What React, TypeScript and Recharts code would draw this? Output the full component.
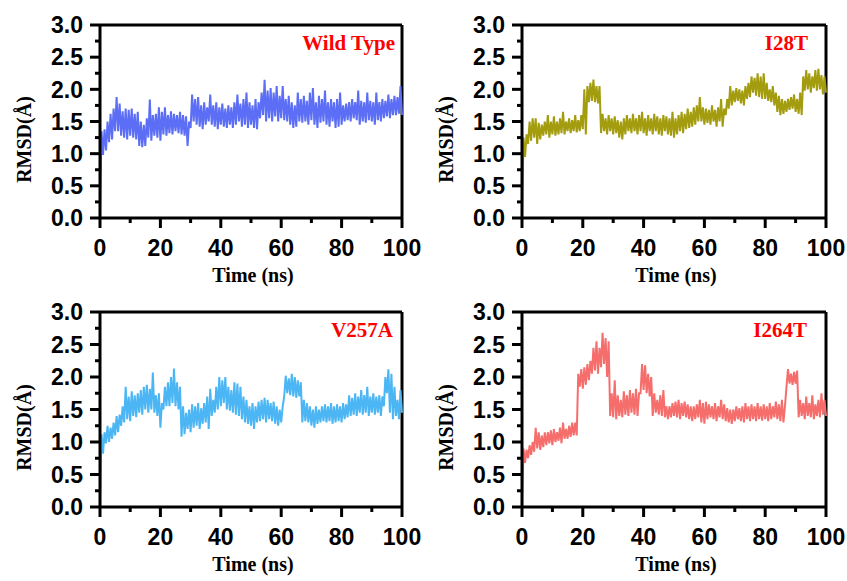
import { LineChart, Line, XAxis, YAxis, ReferenceLine } from 'recharts';

// RMSD traces, 1 ns grid: lower and upper edge of the noisy band
const TIME = Array.from({ length: 101 }, (_, i) => i);

const WT_LO = [
  0, 0.98, 1.05, 1.18, 1.22, 1.35, 1.35, 1.28, 1.25, 1.22,
  1.28, 1.25, 1.22, 1.12, 1.1, 1.12, 1.25, 1.2, 1.28, 1.25,
  1.2, 1.3, 1.28, 1.32, 1.3, 1.35, 1.32, 1.3, 1.28, 1.12,
  1.4, 1.5, 1.45, 1.42, 1.38, 1.45, 1.5, 1.45, 1.42, 1.38,
  1.45, 1.42, 1.4, 1.45, 1.4, 1.45, 1.5, 1.42, 1.45, 1.4,
  1.45, 1.4, 1.38, 1.55, 1.6, 1.5, 1.55, 1.5, 1.58, 1.5,
  1.55, 1.52, 1.5, 1.45, 1.4, 1.42, 1.5, 1.48, 1.5, 1.45,
  1.52, 1.45, 1.4, 1.48, 1.5, 1.45, 1.42, 1.5, 1.4, 1.42,
  1.45, 1.5, 1.52, 1.5, 1.55, 1.52, 1.45, 1.5, 1.48, 1.52,
  1.5, 1.45, 1.52, 1.5, 1.55, 1.58, 1.55, 1.6, 1.6, 1.62,
  1.6,
];
const WT_HI = [
  1.35, 1.38, 1.5, 1.62, 1.7, 1.88, 1.78, 1.66, 1.7, 1.68,
  1.7, 1.62, 1.65, 1.5, 1.45, 1.55, 1.84, 1.6, 1.62, 1.72,
  1.65, 1.72, 1.6, 1.66, 1.62, 1.6, 1.65, 1.6, 1.58, 1.5,
  1.92, 1.85, 1.88, 1.75, 1.8, 1.72, 1.92, 1.75, 1.8, 1.72,
  1.78, 1.7, 1.75, 1.72, 1.8, 1.92, 1.78, 1.85, 1.95, 1.8,
  1.75, 1.85, 1.8, 1.95, 2.15, 1.98, 2.02, 1.95, 2.05, 1.9,
  2.05, 1.85, 1.9, 1.8, 1.75, 1.95, 1.85, 1.9, 1.82, 1.95,
  2.02, 1.8, 1.9, 1.85, 1.98, 1.8, 1.85, 1.8, 1.85, 1.95,
  1.75, 1.78, 1.8, 1.85, 1.8, 1.98, 1.82, 1.8, 1.95, 1.82,
  1.8, 1.95, 1.8, 1.85, 1.82, 1.92, 1.85, 1.9, 1.88, 2.05,
];

const I28T_LO = [
  0, 0.95, 1.15, 1.2, 1.25, 1.15, 1.22, 1.28, 1.3, 1.25,
  1.3, 1.28, 1.3, 1.32, 1.3, 1.35, 1.32, 1.35, 1.33, 1.35,
  1.38, 1.3, 1.8, 1.82, 1.8, 1.78, 1.32, 1.35, 1.3, 1.35,
  1.3, 1.32, 1.25, 1.22, 1.3, 1.35, 1.32, 1.35, 1.3, 1.35,
  1.32, 1.28, 1.35, 1.3, 1.35, 1.3, 1.28, 1.35, 1.3, 1.28,
  1.25, 1.3, 1.35, 1.32, 1.38, 1.4, 1.42, 1.45, 1.5, 1.5,
  1.45, 1.48, 1.45, 1.5, 1.42, 1.5, 1.42, 1.6, 1.7, 1.75,
  1.8, 1.82, 1.78, 1.75, 1.85, 1.88, 1.95, 1.9, 1.88, 1.85,
  1.85, 1.82, 1.8, 1.75, 1.65, 1.6, 1.62, 1.65, 1.68, 1.7,
  1.65, 1.62, 1.6, 1.98, 2.0, 1.95, 2.02, 1.98, 2.0, 1.92,
  1.95,
];
const I28T_HI = [
  1.25, 1.3, 1.5, 1.55, 1.55, 1.48, 1.45, 1.5, 1.6, 1.5,
  1.58, 1.5, 1.55, 1.65, 1.5, 1.55, 1.52, 1.6, 1.52, 1.6,
  2.0, 2.05, 2.1, 2.15, 2.05, 2.05, 1.62, 1.55, 1.6, 1.55,
  1.58, 1.52, 1.5, 1.55, 1.6, 1.55, 1.62, 1.55, 1.6, 1.65,
  1.55, 1.6, 1.55, 1.62, 1.58, 1.55, 1.6, 1.58, 1.55, 1.65,
  1.55, 1.6, 1.65, 1.62, 1.7, 1.65, 1.72, 1.75, 1.88, 1.72,
  1.7, 1.68, 1.75, 1.68, 1.72, 1.85, 1.7, 1.85, 2.05, 1.98,
  2.02, 2.0, 1.98, 2.05, 2.1, 2.2, 2.18, 2.25, 2.2, 2.25,
  2.1, 2.0, 2.05, 1.95, 1.9, 1.85, 1.82, 1.85, 1.88, 1.92,
  1.85, 1.95, 2.2, 2.3, 2.25, 2.2, 2.3, 2.32, 2.22, 2.2,
];

const V257A_LO = [
  0, 0.82, 0.98, 1.0, 1.05, 1.1, 1.15, 1.25, 1.3, 1.35,
  1.32, 1.4, 1.38, 1.45, 1.42, 1.5, 1.45, 1.5, 1.45, 1.4,
  1.22, 1.5, 1.55, 1.55, 1.6, 1.55, 1.5, 1.08, 1.12, 1.2,
  1.15, 1.22, 1.25, 1.2, 1.28, 1.3, 1.2, 1.4, 1.45, 1.5,
  1.55, 1.6, 1.5, 1.48, 1.45, 1.42, 1.4, 1.35, 1.3, 1.28,
  1.25, 1.2, 1.3, 1.32, 1.35, 1.3, 1.35, 1.32, 1.28, 1.25,
  1.3, 1.7, 1.75, 1.72, 1.7, 1.68, 1.7, 1.3, 1.32, 1.3,
  1.25, 1.22, 1.28, 1.3, 1.32, 1.3, 1.32, 1.28, 1.3, 1.32,
  1.3, 1.35, 1.38, 1.4, 1.42, 1.4, 1.45, 1.42, 1.45, 1.4,
  1.45, 1.42, 1.45, 1.4, 1.55, 1.75, 1.45, 1.35, 1.4, 1.35,
  1.45,
];
const V257A_HI = [
  1.12, 1.15, 1.25, 1.22, 1.3, 1.4, 1.42, 1.55, 1.85, 1.7,
  1.78, 1.72, 1.75, 1.8, 1.85, 1.88, 1.82, 2.07, 1.72, 1.75,
  1.6, 1.85, 1.92, 2.0, 2.13, 1.92, 1.85, 1.55, 1.45, 1.5,
  1.58, 1.55, 1.6, 1.52, 1.6, 1.7, 1.82, 1.65, 1.85, 2.0,
  1.95, 2.0, 1.85, 1.8, 1.92, 1.9, 1.85, 1.7, 1.65, 1.55,
  1.6, 1.55, 1.62, 1.65, 1.68, 1.65, 1.6, 1.62, 1.55, 1.5,
  1.55, 2.02, 1.98, 2.05, 2.0, 1.95, 1.92, 1.65, 1.6, 1.55,
  1.5, 1.55, 1.5, 1.55, 1.58, 1.55, 1.6, 1.55, 1.58, 1.55,
  1.6, 1.58, 1.72, 1.68, 1.75, 1.7, 1.8, 1.72, 1.85, 1.7,
  1.75, 1.7, 1.72, 1.7, 2.0, 2.12, 2.05, 1.85, 1.65, 1.8,
];

const I264T_LO = [
  0, 0.68, 0.75, 0.8, 0.85, 0.9, 0.88, 0.92, 0.95, 0.98,
  0.95, 1.0, 1.02, 0.98, 1.05, 1.05, 1.08, 1.1, 1.1, 1.85,
  1.82, 1.88, 1.95, 2.05, 2.1, 2.05, 2.15, 2.2, 2.0, 1.4,
  1.38, 1.35, 1.4, 1.38, 1.42, 1.4, 1.45, 1.42, 1.4, 1.75,
  1.8, 1.75, 1.7, 1.4, 1.45, 1.42, 1.4, 1.38, 1.35, 1.38,
  1.4, 1.38, 1.35, 1.4, 1.38, 1.35, 1.32, 1.35, 1.38, 1.3,
  1.28, 1.35, 1.38, 1.35, 1.32, 1.38, 1.35, 1.32, 1.3, 1.28,
  1.32, 1.35, 1.32, 1.3, 1.35, 1.32, 1.35, 1.32, 1.35, 1.33,
  1.35, 1.32, 1.35, 1.38, 1.35, 1.32, 1.3, 1.85, 1.9, 1.88,
  1.9, 1.38, 1.4, 1.35, 1.4, 1.38, 1.35, 1.4, 1.38, 1.42,
  1.4,
];
const I264T_HI = [
  0.9, 0.88, 0.95, 1.0, 1.22, 1.15, 1.1, 1.15, 1.15, 1.18,
  1.2, 1.15, 1.22, 1.3, 1.2, 1.25, 1.3, 1.3, 2.05, 2.12,
  2.15, 2.2, 2.25, 2.45, 2.55, 2.45, 2.68, 2.6, 2.55, 1.75,
  1.95, 1.72, 1.65, 1.78, 1.72, 1.8, 1.75, 1.82, 1.75, 2.2,
  2.18, 2.05, 2.0, 1.75, 1.65, 1.72, 1.8, 1.55, 1.55, 1.6,
  1.62, 1.65, 1.6, 1.62, 1.58, 1.55, 1.55, 1.58, 1.65, 1.6,
  1.62, 1.58, 1.55, 1.6, 1.55, 1.65, 1.58, 1.52, 1.5, 1.5,
  1.55, 1.52, 1.55, 1.6, 1.55, 1.58, 1.55, 1.6, 1.55, 1.58,
  1.55, 1.6, 1.55, 1.62, 1.58, 1.65, 1.55, 2.12, 2.05, 2.08,
  2.1, 1.65, 1.6, 1.7, 1.6, 1.72, 1.58, 1.65, 1.75, 1.65,
];

const X_TICKS = [0, 10, 20, 30, 40, 50, 60, 70, 80, 90, 100];
const Y_TICKS = [0, 0.25, 0.5, 0.75, 1, 1.25, 1.5, 1.75, 2, 2.25, 2.5, 2.75, 3];

const SANS = '"Liberation Sans", Arial, sans-serif';
const SERIF = '"Liberation Serif", "Times New Roman", serif';

// zigzag between the lower and upper edge so the line fills the band
function buildTrace(lo: number[], hi: number[]) {
  const rows: { t: number; rmsd: number }[] = [];
  lo.forEach((v, i) => {
    rows.push({ t: TIME[i], rmsd: v });
    if (i < hi.length) rows.push({ t: TIME[i] + 0.5, rmsd: hi[i] });
  });
  return rows;
}

const panels = [
  { name: 'Wild Type', color: '#5b6ef5', data: buildTrace(WT_LO, WT_HI), left: 0, top: 0, row: 0, col: 0, inset: 7 },
  { name: 'I28T', color: '#a39c0e', data: buildTrace(I28T_LO, I28T_HI), left: 422, top: 0, row: 0, col: 1, inset: 18 },
  { name: 'V257A', color: '#4cb6f5', data: buildTrace(V257A_LO, V257A_HI), left: 0, top: 290, row: 1, col: 0, inset: 9 },
  { name: 'I264T', color: '#f56e6c', data: buildTrace(I264T_LO, I264T_HI), left: 422, top: 290, row: 1, col: 1, inset: 19 },
];

function YTick(props: any) {
  const { x, y, payload } = props;
  const v = payload.value;
  const major = Math.abs(v * 2 - Math.round(v * 2)) < 1e-6;
  return (
    <g>
      <line x1={x - (major ? 10 : 5)} y1={y} x2={x} y2={y} stroke="#000" strokeWidth={3} />
      {major && (
        <text x={x - 17} y={y} dy="0.36em" textAnchor="end" fontFamily={SANS} fontWeight="bold" fontSize={23} fill="#000">
          {v.toFixed(1)}
        </text>
      )}
    </g>
  );
}

function XTick(props: any) {
  const { x, y, payload } = props;
  const v = payload.value;
  const major = v % 20 === 0;
  return (
    <g>
      <line x1={x} y1={y} x2={x} y2={y + (major ? 10 : 5)} stroke="#000" strokeWidth={3} />
      {major && (
        <text x={x} y={y + 38} textAnchor="middle" fontFamily={SANS} fontWeight="bold" fontSize={23} fill="#000">
          {v}
        </text>
      )}
    </g>
  );
}

function Panel({ p }: { p: (typeof panels)[number] }) {
  const top = p.row === 0 ? 25 : 22;
  const xAxisHeight = p.row === 0 ? 72 : 73;
  const width = p.col === 0 ? 422 : 425;
  const right = p.col === 0 ? 20 : 21;
  return (
    <div style={{ position: 'absolute', left: p.left, top: p.top }}>
      <LineChart width={width} height={290} data={p.data} margin={{ top, right, left: 0, bottom: 0 }}>
        <XAxis
          dataKey="t"
          type="number"
          domain={[0, 100]}
          ticks={X_TICKS}
          interval={0}
          height={xAxisHeight}
          tickSize={0}
          tickMargin={0}
          tickLine={false}
          axisLine={{ stroke: '#000', strokeWidth: 3 }}
          tick={(t: any) => <XTick {...t} />}
          label={{
            content: ({ viewBox }: any) => (
              <text
                x={viewBox.x + viewBox.width / 2 + 2}
                y={viewBox.y + 57}
                dy="0.35em"
                textAnchor="middle"
                fontFamily={SERIF}
                fontWeight="bold"
                fontSize={20}
                fill="#000"
              >
                Time (ns)
              </text>
            ),
          }}
        />
        <YAxis
          type="number"
          domain={[0, 3]}
          ticks={Y_TICKS}
          interval={0}
          width={100}
          tickSize={0}
          tickMargin={0}
          tickLine={false}
          axisLine={{ stroke: '#000', strokeWidth: 3 }}
          tick={(t: any) => <YTick {...t} />}
          label={{
            content: ({ viewBox }: any) => {
              const cx = viewBox.x + 24;
              const cy = viewBox.y + viewBox.height / 2 + 18;
              return (
                <text
                  x={cx}
                  y={cy}
                  dy="0.35em"
                  transform={`rotate(-90 ${cx} ${cy})`}
                  textAnchor="middle"
                  fontFamily={SERIF}
                  fontWeight="bold"
                  fontSize={20}
                  fill="#000"
                >
                  RMSD(Å)
                </text>
              );
            },
          }}
        />
        <ReferenceLine
          y={3}
          stroke="#000"
          strokeWidth={3}
          label={{
            content: ({ viewBox }: any) => (
              <text
                x={viewBox.x + viewBox.width - p.inset}
                y={viewBox.y + 25}
                textAnchor="end"
                fontFamily={SERIF}
                fontWeight="bold"
                fontSize={21}
                fill="#ff0000"
              >
                {p.name}
              </text>
            ),
          }}
        />
        <ReferenceLine x={100} stroke="#000" strokeWidth={3} />
        <Line
          type="linear"
          dataKey="rmsd"
          stroke={p.color}
          strokeWidth={2}
          dot={false}
          activeDot={false}
          isAnimationActive={false}
        />
      </LineChart>
    </div>
  );
}

export default function App() {
  return (
    <div style={{ position: 'absolute', left: 0, top: 0, width: 847, height: 581, background: '#fff' }}>
      {panels.map((p) => (
        <Panel key={p.name} p={p} />
      ))}
    </div>
  );
}
